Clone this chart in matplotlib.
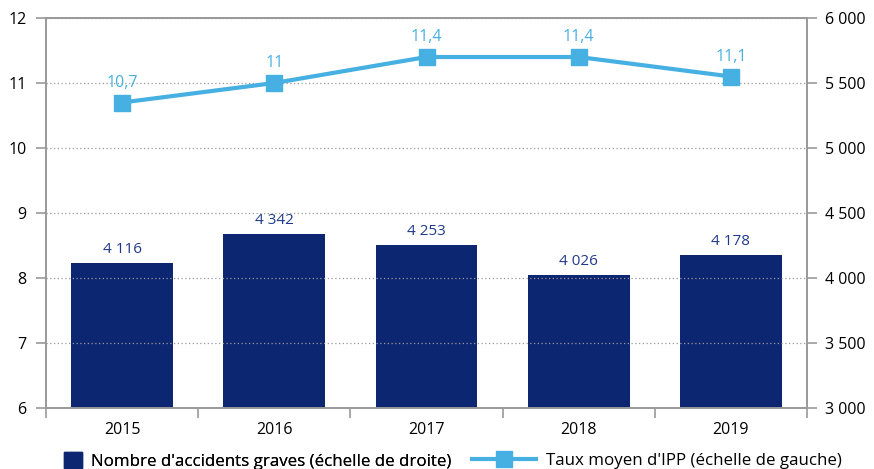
import matplotlib
matplotlib.use("Agg")
import matplotlib.pyplot as plt
from matplotlib.ticker import FuncFormatter
from matplotlib.lines import Line2D
from matplotlib.patches import Patch

years = ["2015", "2016", "2017", "2018", "2019"]
accidents = [4116, 4342, 4253, 4026, 4178]
ipp = [10.7, 11.0, 11.4, 11.4, 11.1]
accident_labels = ["4 116", "4 342", "4 253", "4 026", "4 178"]
ipp_labels = ["10,7", "11", "11,4", "11,4", "11,1"]
legend_bar = "Nombre d'accidents graves (échelle de droite)"
legend_line = "Taux moyen d'IPP (échelle de gauche)"

navy = "#0C2672"
light = "#45B0E1"
grey = "#999999"
font = ["Open Sans", "DejaVu Sans"]
plt.rcParams["font.family"] = font

fig = plt.figure(figsize=(8.74, 4.69), dpi=100)
axL = fig.add_axes([46/874, 1-408/469, (807-46)/874, 390/469])
axR = axL.twinx()

x = list(range(len(years)))
axR.bar(x, accidents, width=0.67, color=navy, zorder=2)
for xi, v, lab in zip(x, accidents, accident_labels):
    axR.text(xi, v + 45, lab, ha="center", va="bottom", color="#1F3A8A",
             fontsize=11)
axR.set_ylim(3000, 6000)
axR.set_yticks([3000, 3500, 4000, 4500, 5000, 5500, 6000])
axR.yaxis.set_major_formatter(FuncFormatter(lambda v, p: f"{int(v):,}".replace(",", " ")))

axL.set_zorder(axR.get_zorder() + 1)
axL.patch.set_visible(False)
axL.plot(x, ipp, color=light, lw=3, marker="s", ms=12, zorder=3, clip_on=False)
for xi, v, lab in zip(x, ipp, ipp_labels):
    axL.text(xi, v + 0.18, lab, ha="center", va="bottom", color=light,
             fontsize=11.5)
axL.set_ylim(6, 12)
axL.set_yticks(range(6, 13))
axL.set_xlim(-0.5, 4.5)
axL.set_xticks([i - 0.5 for i in range(6)], minor=False)
axL.set_xticklabels([])
axL.set_xticks(x, minor=True)
axL.set_xticklabels(years, minor=True, fontsize=11.5)
axL.tick_params(axis="x", which="minor", length=0, pad=10)
axL.tick_params(axis="x", which="major", length=7, color=grey, direction="out", width=1.2)
axL.grid(axis="y", linestyle=(0, (1, 2)), color=grey, lw=0.9, zorder=0)

for ax in (axL, axR):
    for s in ax.spines.values():
        s.set_color(grey)
        s.set_linewidth(1.2)
    ax.tick_params(axis="y", length=7, color=grey, labelsize=11.5, width=1.2)
axL.tick_params(axis="y", pad=7)
axR.tick_params(axis="y", pad=6)

ly = 1 - 461/469
leg1 = fig.legend([Patch(facecolor=navy, edgecolor=navy)], [legend_bar],
                  loc="center left", bbox_to_anchor=(64/874, ly), frameon=False,
                  fontsize=12.2, handlelength=1.05, handleheight=1.05,
                  handletextpad=0.55, borderpad=0, borderaxespad=0)
leg2 = fig.legend([Line2D([0], [0], color=light, lw=3, marker="s", ms=12)], [legend_line],
                  loc="center left", bbox_to_anchor=(472/874, ly), frameon=False,
                  fontsize=12.2, handlelength=3.8,
                  handletextpad=0.55, borderpad=0, borderaxespad=0)
fig.add_artist(leg1)

fig.savefig("out.png", dpi=100)
